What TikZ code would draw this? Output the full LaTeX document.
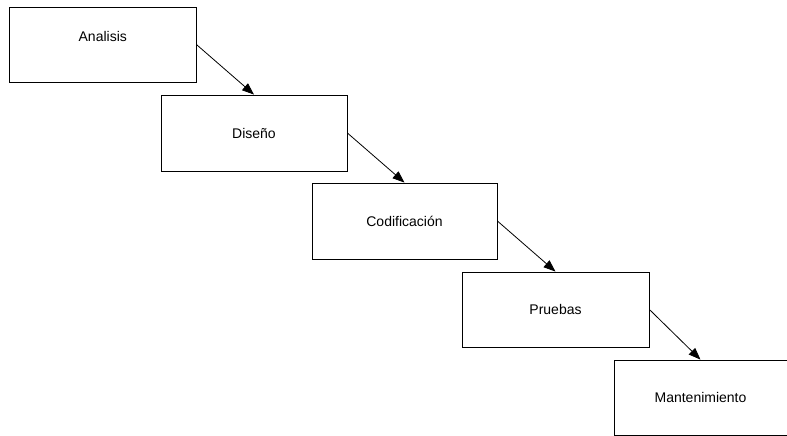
\documentclass[tikz,border=0pt]{standalone}
\usepackage{fontspec}
\setmainfont{Liberation Sans}
\usetikzlibrary{arrows.meta,calc}

\tikzset{
  stage/.style={draw=black, line width=0.8pt, fill=white, inner sep=0pt},
  caption/.style={font=\fontsize{14}{16}\selectfont, inner sep=0pt},
  flow/.style={draw=black, line width=0.8pt, -{Triangle[length=12pt,width=9pt]}}
}

\begin{document}
\begin{tikzpicture}[x=1pt, y=-1pt]
  \useasboundingbox (0,0) rectangle (787,436);

  % stages of the waterfall
  \node[stage, minimum width=186.5pt, minimum height=75pt] (ana) at (102.75,44.5) {};
  \node[caption] (anat) at (102.75,36) {Analisis};

  \node[stage, minimum width=186pt, minimum height=76pt] (dis) at (254,133) {};
  \node[caption] (dist) at (254,133) {Diseño};

  \node[stage, minimum width=185pt, minimum height=76pt] (cod) at (404.5,221) {};
  \node[caption] (codt) at (404.5,221) {Codificación};

  \node[stage, minimum width=187pt, minimum height=75pt] (pru) at (555.5,309.5) {};
  \node[caption] (prut) at (555.5,309.5) {Pruebas};

  \node[stage, minimum width=173pt, minimum height=75pt] (man) at (700.5,397.5) {};
  \node[caption] (mant) at (700.5,397.5) {Mantenimiento};

  % connectors: right side of each stage to the top of the next
  \draw[flow] (ana.east) -- (dis.north);
  \draw[flow] (dis.east) -- (cod.north);
  \draw[flow] (cod.east) -- (pru.north);
  \draw[flow] (pru.east) -- (man.north);
\end{tikzpicture}
\end{document}
